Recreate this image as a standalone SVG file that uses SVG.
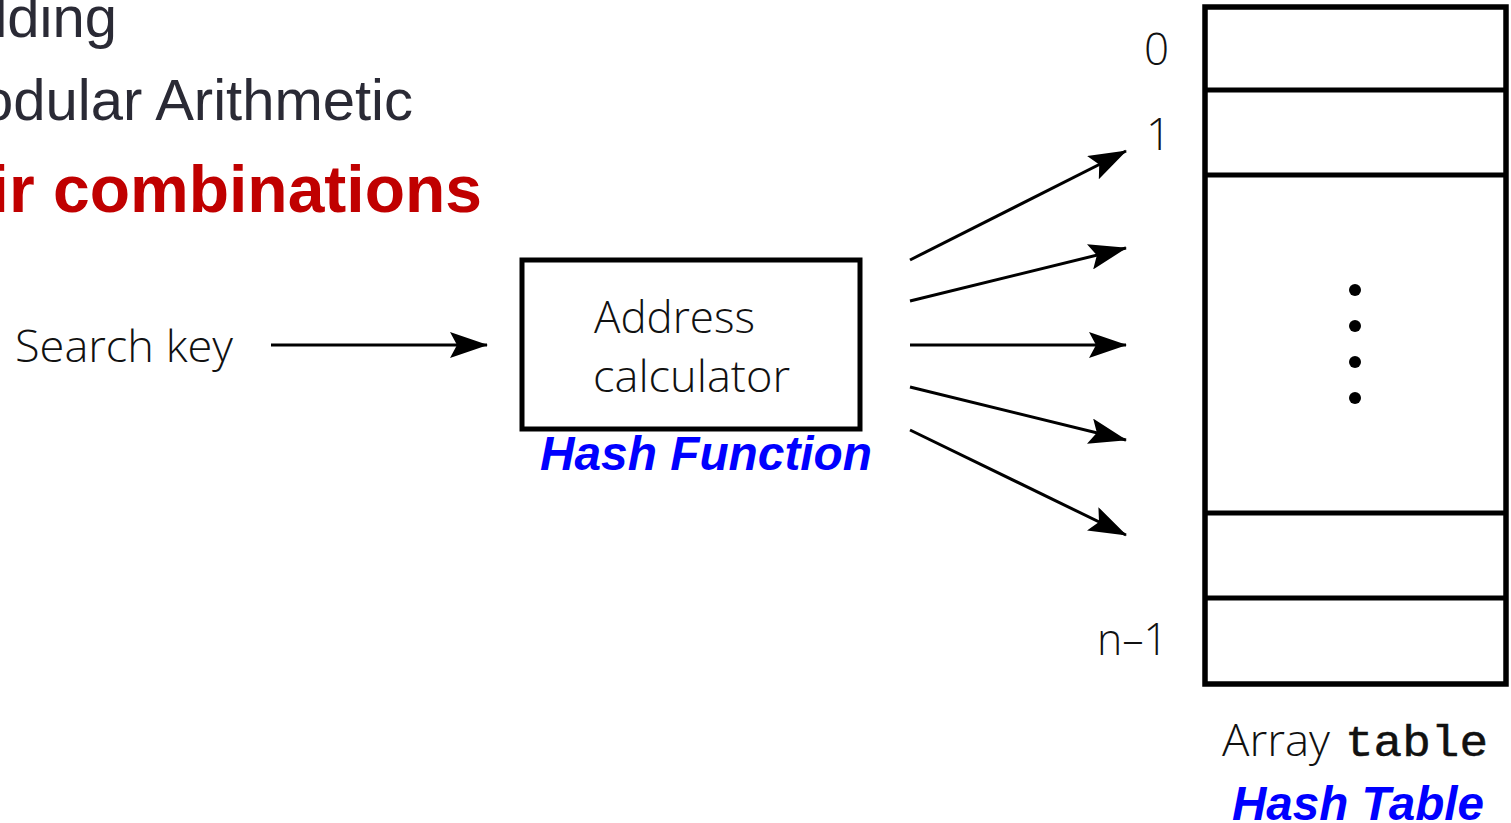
<svg xmlns="http://www.w3.org/2000/svg" width="1511" height="823" viewBox="0 0 1511 823">
<style>
.bullet{font-family:"Liberation Sans",Arial,sans-serif;font-size:58px;fill:#2a2a35}
.red{font-family:"Liberation Sans",Arial,sans-serif;font-size:66px;font-weight:bold;fill:#c00000}
.lbl{font-family:"Open Sans","Noto Sans",sans-serif;font-size:44px;font-weight:300;fill:#111}
.blue{font-family:"Liberation Sans",Arial,sans-serif;font-weight:bold;font-style:italic;fill:#0000ff;font-size:48px}
.mono{font-family:"Liberation Mono","Courier New",monospace;font-size:44px;fill:#111;stroke:#111;stroke-width:0.5}
.conn{stroke:#000;stroke-width:3;fill:none;marker-end:url(#ah)}
.box{fill:#fff;stroke:#000;stroke-width:5}
.row{stroke:#000;stroke-width:5}
</style>
<defs>
<marker id="ah" viewBox="0 0 38 26" refX="37" refY="13" markerWidth="38" markerHeight="26" markerUnits="userSpaceOnUse" orient="auto">
<path d="M0,0 L38,13 L0,26 L7,13 z" fill="#000"/>
</marker>
</defs>
<rect width="1511" height="823" fill="#fff"/>
<g id="bullets">
<text class="bullet" x="117" y="37" text-anchor="end">lding</text>
<text class="bullet" x="413" y="120" text-anchor="end">odular Arithmetic</text>
<text class="red" x="482" y="212" text-anchor="end">ir combinations</text>
</g>
<g id="search-key">
<text class="lbl" x="15" y="362" textLength="218" lengthAdjust="spacingAndGlyphs">Search key</text>
</g>
<g id="address-calculator">
<rect class="box" x="522" y="260" width="338" height="169"/>
<text class="lbl" x="594" y="333" textLength="161" lengthAdjust="spacingAndGlyphs">Address</text>
<text class="lbl" x="593" y="392" textLength="197" lengthAdjust="spacingAndGlyphs">calculator</text>
<text class="blue" x="540" y="470" textLength="332" lengthAdjust="spacingAndGlyphs">Hash Function</text>
</g>
<g id="array-table">
<rect x="1205" y="7" width="301" height="677" fill="#fff" stroke="#000" stroke-width="5.5"/>
<line class="row" x1="1205" y1="90" x2="1506" y2="90"/>
<line class="row" x1="1205" y1="175" x2="1506" y2="175"/>
<line class="row" x1="1205" y1="513" x2="1506" y2="513"/>
<line class="row" x1="1205" y1="598" x2="1506" y2="598"/>
<circle cx="1355" cy="290" r="6" fill="#000"/>
<circle cx="1355" cy="326" r="6" fill="#000"/>
<circle cx="1355" cy="362" r="6" fill="#000"/>
<circle cx="1355" cy="398" r="6" fill="#000"/>
<text class="lbl" x="1169" y="65" text-anchor="end">0</text>
<text class="lbl" x="1171" y="150" text-anchor="end">1</text>
<text class="lbl" x="1168" y="655" text-anchor="end" textLength="71" lengthAdjust="spacingAndGlyphs">n–1</text>
<text x="1222" y="756"><tspan class="lbl" textLength="108" lengthAdjust="spacingAndGlyphs">Array</tspan><tspan class="mono" x="1345" textLength="143" lengthAdjust="spacingAndGlyphs">table</tspan></text>
<text class="blue" x="1232" y="820" textLength="252" lengthAdjust="spacingAndGlyphs">Hash Table</text>
</g>
<g id="connectors">
<line class="conn" x1="271" y1="345" x2="487" y2="345"/>
<line class="conn" x1="910" y1="260" x2="1126" y2="151"/>
<line class="conn" x1="910" y1="301" x2="1126" y2="248"/>
<line class="conn" x1="910" y1="345" x2="1126" y2="345"/>
<line class="conn" x1="910" y1="387" x2="1126" y2="440"/>
<line class="conn" x1="910" y1="430" x2="1126" y2="535"/>
</g>
</svg>
